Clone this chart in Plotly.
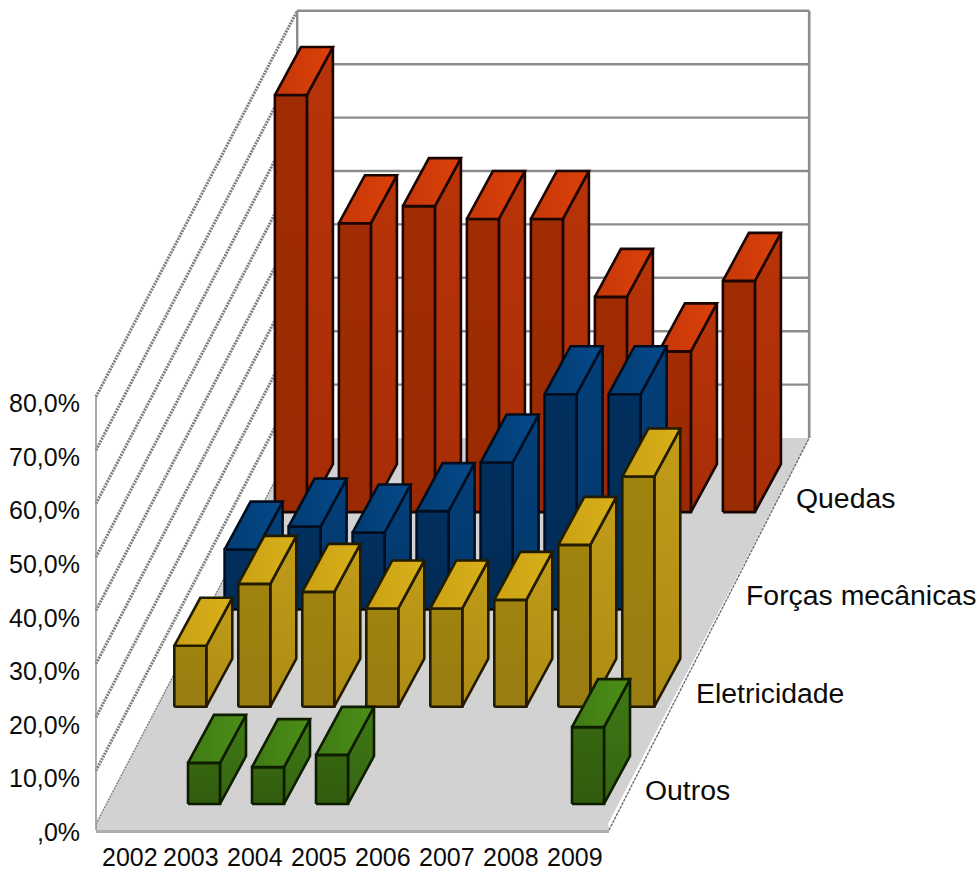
import plotly.graph_objects as go

# Accident causes by year, share of cases in percent (None = no bar)
years = ["2002", "2003", "2004", "2005", "2006", "2007", "2008", "2009"]
outros = [None, 7.7, 6.9, 9.2, None, None, None, 14.4]
eletricidade = [11.4, 23.0, 21.5, 18.4, 18.4, 20.0, 30.3, 43.1]
forcas = [11.2, 15.5, 14.4, 18.4, 27.5, 40.3, 40.3, None]
quedas = [78.1, 54.1, 57.3, 54.9, 54.9, 40.3, 30.1, 43.3]
series_names = ["Outros", "Eletricidade", "Forças mecânicas", "Quedas"]
value_ticks = [0, 10, 20, 30, 40, 50, 60, 70, 80]
value_labels = [",0%", "10,0%", "20,0%", "30,0%", "40,0%", "50,0%", "60,0%", "70,0%", "80,0%"]

series_values = [outros, eletricidade, forcas, quedas]

# Face colours per series: front, side (top to bottom), top (left to right), edge
palette = [
    dict(front=("#37650f", "#315c0e"), side=("#3f7815", "#356611"), top=("#3f7a14", "#4c8f18"), edge="#0e1c00"),
    dict(front=("#a0820f", "#9a7d12"), side=("#c09c18", "#ae8c14"), top=("#c9a114", "#dab01a"), edge="#221b00"),
    dict(front=("#02305e", "#012b55"), side=("#033f78", "#03386c"), top=("#033c72", "#044a8a"), edge="#000e20"),
    dict(front=("#a02c03", "#9a2a02"), side=("#b8340a", "#a72d05"), top=("#c5370a", "#dc4108"), edge="#1a0500"),
]

# Oblique projection of the plot box onto the page
UNIT_X = 64.0        # one year along the width
DEPTH_X = 50.3       # one series along the depth
DEPTH_Y = -96.5      # floor depth per series
ROW_Y = -97.3        # spacing of the bar rows, slightly wider than the floor step
UNIT_Z = -5.34       # one percentage point of height
BOX_X, BOX_Y = 96.0, 824.0
BAR_W = 32.0
BAR_DX, BAR_DY = 26.0, -48.0
BAR_X0, BAR_Y0 = 28.0, -20.0   # bar inset inside its floor cell
LABEL_FONT = 25
SERIES_FONT = 28.4


def box_point(years_along, series_along, value):
    return (
        BOX_X + years_along * UNIT_X + series_along * DEPTH_X,
        BOX_Y + series_along * DEPTH_Y + value * UNIT_Z,
    )


def polygon(points, colors, kind, edge, width=2.6):
    xs = [p[0] for p in points] + [points[0][0]]
    ys = [p[1] for p in points] + [points[0][1]]
    return go.Scatter(
        x=xs, y=ys, mode="lines", fill="toself",
        fillgradient=dict(
            type=kind,
            colorscale=[[0, colors[0]], [1, colors[1]]],
        ),
        line=dict(color=edge, width=width),
        hoverinfo="skip", showlegend=False,
    )


def plain_polygon(points, color):
    xs = [p[0] for p in points] + [points[0][0]]
    ys = [p[1] for p in points] + [points[0][1]]
    return go.Scatter(
        x=xs, y=ys, mode="lines", fill="toself", fillcolor=color,
        line=dict(width=0), hoverinfo="skip", showlegend=False,
    )


def line(p, q, color, width, dash="solid"):
    return go.Scatter(
        x=[p[0], q[0]], y=[p[1], q[1]], mode="lines",
        line=dict(color=color, width=width, dash=dash),
        hoverinfo="skip", showlegend=False,
    )


fig = go.Figure()
n_years = len(years)
n_series = len(series_names)
top_value = value_ticks[-1]

# Floor and its front lip
c0 = box_point(0, 0, 0)
c1 = box_point(n_years, 0, 0)
c2 = box_point(n_years, n_series, 0)
c3 = box_point(0, n_series, 0)
fig.add_trace(plain_polygon([c0, (c0[0], c0[1] + 6), (c1[0] + 1, c1[1] + 6), c1, c2, c3], "#d2d2d2"))
fig.add_trace(line((c0[0], c0[1] + 7.5), (c1[0] + 1, c1[1] + 7.5), "#aeaeae", 3))

# Walls: gridlines at every tick
for v in value_ticks:
    a = box_point(0, 0, v)
    b = box_point(0, n_series, v)
    d = box_point(n_years, n_series, v)
    fig.add_trace(line(a, b, "#7f7f7f", 3 if v else 1.4, "2px,1px"))
    if v:
        fig.add_trace(line(b, d, "#8c8c8c", 2.4))

fig.add_trace(line((c0[0], c0[1] + 6), box_point(0, 0, top_value), "#969696", 1.6))
fig.add_trace(line(c3, box_point(0, n_series, top_value), "#8c8c8c", 2.4))
fig.add_trace(line(c2, box_point(n_years, n_series, top_value), "#8c8c8c", 2.6))
fig.add_trace(line((c1[0] + 1, c1[1] + 6), c2, "#6e6e6e", 1.4, "3px,1px"))

# Bars, painted from the back row to the front row
for s in range(n_series - 1, -1, -1):
    style = palette[s]
    for y, value in enumerate(series_values[s]):
        if value is None:
            continue
        bx = box_point(y, s, 0)[0] + BAR_X0
        by = BOX_Y + BAR_Y0 + s * ROW_Y
        h = value * UNIT_Z
        front = [(bx, by), (bx + BAR_W, by), (bx + BAR_W, by + h), (bx, by + h)]
        side = [
            (bx + BAR_W, by), (bx + BAR_W + BAR_DX, by + BAR_DY),
            (bx + BAR_W + BAR_DX, by + h + BAR_DY), (bx + BAR_W, by + h),
        ]
        top = [
            (bx, by + h), (bx + BAR_W, by + h),
            (bx + BAR_W + BAR_DX, by + h + BAR_DY), (bx + BAR_DX, by + h + BAR_DY),
        ]
        fig.add_trace(polygon(side, style["side"][::-1], "vertical", style["edge"]))
        fig.add_trace(polygon(front, style["front"][::-1], "vertical", style["edge"]))
        fig.add_trace(polygon(top, style["top"], "horizontal", style["edge"]))


# Text labels
def font(size):
    return dict(family="Liberation Sans, Arial, sans-serif", size=size, color="#0c0c0c")


annotations = []
for v, text in zip(value_ticks, value_labels):
    annotations.append(dict(
        x=81, y=box_point(0, 0, v)[1] + 8 - 0.02 * v, text=text,
        xanchor="right", yanchor="middle", font=font(LABEL_FONT),
    ))
for i, text in enumerate(years):
    annotations.append(dict(
        x=box_point(i, 0, 0)[0] + 30.5 + (3 if i == 0 else 0), y=856.5, text=text,
        xanchor="center", yanchor="middle", font=font(LABEL_FONT),
    ))
for s, text in enumerate(series_names):
    px = box_point(n_years, s, 0)[0]
    annotations.append(dict(
        x=px + 36.4, y=BOX_Y + s * ROW_Y - 34, text=text,
        xanchor="left", yanchor="middle", font=font(SERIES_FONT),
    ))
for a in annotations:
    a.update(xref="x", yref="y", showarrow=False, borderpad=0, align="left")

fig.update_layout(
    width=977, height=872,
    margin=dict(l=0, r=0, t=0, b=0),
    paper_bgcolor="white", plot_bgcolor="white",
    showlegend=False,
    annotations=annotations,
    xaxis=dict(range=[0, 977], visible=False, fixedrange=True),
    yaxis=dict(range=[872, 0], visible=False, fixedrange=True),
)

fig.write_html("out.html", config=dict(displayModeBar=False))
